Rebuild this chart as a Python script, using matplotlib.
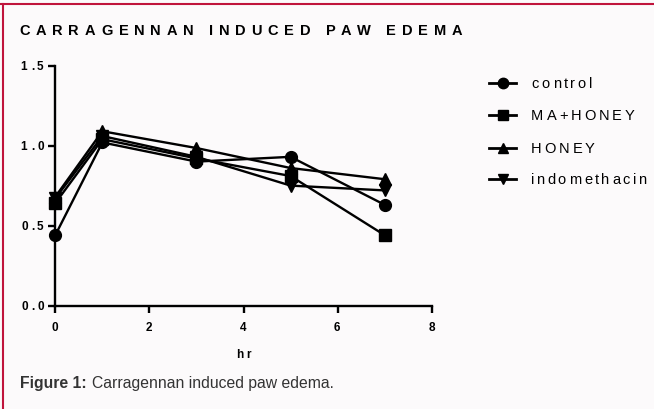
import matplotlib
matplotlib.use("Agg")
import matplotlib.pyplot as plt
from matplotlib.font_manager import FontProperties, findfont
from matplotlib.ft2font import FT2Font
from matplotlib.lines import Line2D

W, H = 654, 409
DPI = 100

hours = [0, 1, 3, 5, 7]
control = [0.44, 1.02, 0.90, 0.93, 0.63]
ma_honey = [0.64, 1.04, 0.92, 0.81, 0.44]
honey = [0.68, 1.09, 0.985, 0.86, 0.79]
indomethacin = [0.67, 1.06, 0.93, 0.75, 0.72]

series_names = ["control", "MA+HONEY", "HONEY", "indomethacin"]
series_vals = [control, ma_honey, honey, indomethacin]
series_markers = ["o", "s", "^", "v"]

xticks = [0, 2, 4, 6, 8]
yticks = [0.0, 0.5, 1.0, 1.5]
ytick_labels = ["0.0", "0.5", "1.0", "1.5"]

title = "CARRAGENNAN INDUCED PAW EDEMA"
xlabel = "hr"
caption_bold = "Figure 1:"
caption_rest = "Carragennan induced paw edema."

BG = "#fcfafb"
BORDER = "#c0143c"

fig = plt.figure(figsize=(W / DPI, H / DPI), dpi=DPI)
fig.patch.set_facecolor(BG)

FAM = "Liberation Sans"


def advance(ch, size, weight):
    fp = FontProperties(family=FAM, weight=weight, size=size)
    f = FT2Font(findfont(fp), hinting_factor=1)
    f.set_size(size, DPI)
    g = f.load_char(ord(ch))
    return g.horiAdvance / 64.0


def text_width(s, size, weight, track):
    return sum(advance(c, size, weight) for c in s) + track * (len(s) - 1)


def spaced(x_px, y_px, s, size, weight="normal", track=0.0, color="black",
           ha="left", va="baseline"):
    tw = text_width(s, size, weight, track)
    if ha == "center":
        x_px = x_px - tw / 2
    elif ha == "right":
        x_px = x_px - tw
    fp = FontProperties(family=FAM, weight=weight, size=size)
    x = x_px
    for c in s:
        if c != " ":
            fig.text(x / W, 1 - y_px / H, c, fontproperties=fp, color=color,
                     ha="left", va=va)
        x += advance(c, size, weight) + track


# axes
ax_l, ax_r, ax_t, ax_b = 55.3, 431.7, 65.7, 305.5
ax = fig.add_axes([ax_l / W, 1 - ax_b / H, (ax_r - ax_l) / W, (ax_b - ax_t) / H])
ax.set_facecolor("none")
ax.set_xlim(0, 8)
ax.set_ylim(0, 1.5)
for sp in ["top", "right"]:
    ax.spines[sp].set_visible(False)
for sp in ["left", "bottom"]:
    ax.spines[sp].set_linewidth(1.7)
ax.set_xticks(xticks)
ax.set_yticks(yticks)
ax.set_xticklabels([])
ax.set_yticklabels([])
ax.tick_params(direction="out", length=5, width=1.7)

for vals, mk in zip(series_vals, series_markers):
    ax.plot(hours, vals, color="black", lw=1.7, marker=mk, markersize=8.5,
            clip_on=False, zorder=3)

# tick labels (letter-spaced bold)
for v in xticks:
    xp = ax_l + (ax_r - ax_l) * v / 8
    spaced(xp, 331, str(v), 8.5, "bold", 0, ha="center")
for v, lab in zip(yticks, ytick_labels):
    yp = ax_b - (ax_b - ax_t) * v / 1.5
    spaced(44, yp + 4, lab, 8.5, "bold", 2.2, ha="right")

spaced(243.5, 358, xlabel, 8.5, "bold", 3, ha="center")

# title, fitted to its measured width
t_size = 10.5
nat = text_width(title, t_size, "bold", 0)
t_track = (463 - 19 - nat) / (len(title) - 1)
spaced(19, 35, title, t_size, "bold", t_track)

# legend
leg_y = [83.3, 115, 147.7, 179]
for name, mk, yp in zip(series_names, series_markers, leg_y):
    yf = 1 - yp / H
    fig.add_artist(Line2D([489 / W, 516 / W], [yf, yf], color="black", lw=2))
    fig.add_artist(Line2D([502.5 / W], [yf], color="black", marker=mk,
                          markersize=7.5, lw=0))
    spaced(531, yp + 5, name, 10.5, "normal", 2.5)

# caption
cap_size = 11.3
fp_b = FontProperties(family=FAM, weight="bold", size=cap_size)
fp_n = FontProperties(family=FAM, weight="normal", size=cap_size)
fig.text(20 / W, 1 - 388 / H, caption_bold, fontproperties=fp_b,
         color="#333333", va="baseline")
fig.text(91.5 / W, 1 - 388 / H, caption_rest, fontproperties=fp_n,
         color="#333333", va="baseline")

# border
fig.add_artist(Line2D([0, 1], [1 - 4.3 / H, 1 - 4.3 / H], color=BORDER, lw=1.5))
fig.add_artist(Line2D([2.7 / W, 2.7 / W], [0, 1 - 4.3 / H], color=BORDER, lw=1.5))

fig.savefig("out.png", dpi=DPI, facecolor=BG)
